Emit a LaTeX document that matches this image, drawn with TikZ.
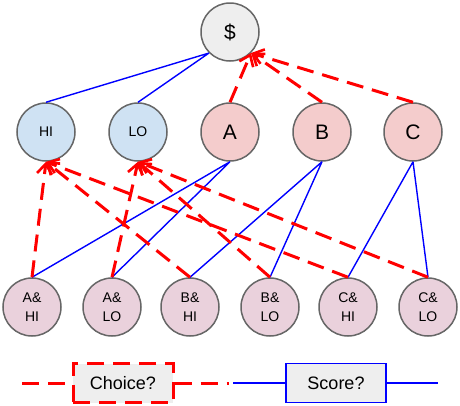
\documentclass[tikz,border=0pt]{standalone}
\usepackage{fontspec}
\setmainfont{Liberation Sans}
\usepackage{tikz}
\usepackage{xcolor}
\usetikzlibrary{
    arrows.meta,
    calc
}
\definecolor{ringgray}{HTML}{666666}
\definecolor{rootfill}{HTML}{EEEEEE}
\definecolor{levelfill}{HTML}{CFE2F3}
\definecolor{itemfill}{HTML}{F4CCCC}
\definecolor{pairfill}{HTML}{EAD1DC}

\begin{document}
\begin{tikzpicture}[x=1pt, y=-1pt,
        ball/.style={circle, draw=ringgray, line width=1.5pt, minimum size=58pt, inner sep=0pt},
        pair/.style={ball, fill=pairfill, align=center, font=\fontsize{14}{19}\selectfont},
        choice/.style={draw=red, line width=3pt, dash pattern=on 17pt off 9pt},
        choicearrow/.style={choice, -{Straight Barb[length=10pt, width=15pt, line width=2.6pt]}},
        score/.style={draw=blue, line width=1.4pt},
        legendbox/.style={fill=rootfill, minimum width=100pt, minimum height=39pt, font=\fontsize{18}{18}\selectfont}]
    \useasboundingbox (0, 0) rectangle (460, 405);
    % top of the tree
    \node[ball, fill=rootfill, font=\fontsize{21}{21}\selectfont] (root) at (230, 32) {\$};
    % second row
    \node[ball, fill=levelfill, font=\fontsize{14}{14}\selectfont] (hi) at (46, 132) {HI};
    \node[ball, fill=levelfill, font=\fontsize{14}{14}\selectfont] (lo) at (138, 132) {LO};
    \node[ball, fill=itemfill, font=\fontsize{21}{21}\selectfont] (a) at (230, 132) {A};
    \node[ball, fill=itemfill, font=\fontsize{21}{21}\selectfont] (b) at (322, 132) {B};
    \node[ball, fill=itemfill, font=\fontsize{21}{21}\selectfont] (c) at (413, 132) {C};
    % bottom row
    \node[pair] (ahi) at (32, 307) {A\&\\HI};
    \node[pair] (alo) at (112, 307) {A\&\\LO};
    \node[pair] (bhi) at (190, 307) {B\&\\HI};
    \node[pair] (blo) at (270, 307) {B\&\\LO};
    \node[pair] (chi) at (348, 307) {C\&\\HI};
    \node[pair] (clo) at (428, 307) {C\&\\LO};
    % legend
    \node[legendbox, draw=red, line width=3pt, dash pattern=on 17pt off 9pt] (choicekey) at (123, 383) {Choice?};
    \node[legendbox, draw=blue, line width=1.5pt] (scorekey) at (336, 383) {Score?};
    \coordinate (choicestart) at (22, 383);
    \coordinate (choiceend) at (229, 383);
    \coordinate (scorestart) at (233, 383);
    \coordinate (scoreend) at (438, 383);

    \draw[score]
    (hi.north) -- (root.-135)
    (lo.north) -- (root.-135)
    (a.south) -- (ahi.north)
    (a.south) -- (alo.north)
    (b.south) -- (bhi.north)
    (b.south) -- (blo.north)
    (c.south) -- (chi.north)
    (c.south) -- (clo.north);
    \draw[choicearrow] (a.north) -- (root.-45);
    \draw[choicearrow] (b.north) -- (root.-45);
    \draw[choicearrow] (c.north) -- (root.-45);
    \draw[choicearrow] (ahi.north) -- (hi.south);
    \draw[choicearrow] (bhi.north) -- (hi.south);
    \draw[choicearrow] (chi.north) -- (hi.south);
    \draw[choicearrow] (alo.north) -- (lo.south);
    \draw[choicearrow] (blo.north) -- (lo.south);
    \draw[choicearrow] (clo.north) -- (lo.south);
    \draw[choice]
    (choicestart) -- (choicekey.west)
    (choicekey.east) -- (choiceend);
    \draw[score]
    (scorestart) -- (scorekey.west)
    (scorekey.east) -- (scoreend);
\end{tikzpicture}
\end{document}
